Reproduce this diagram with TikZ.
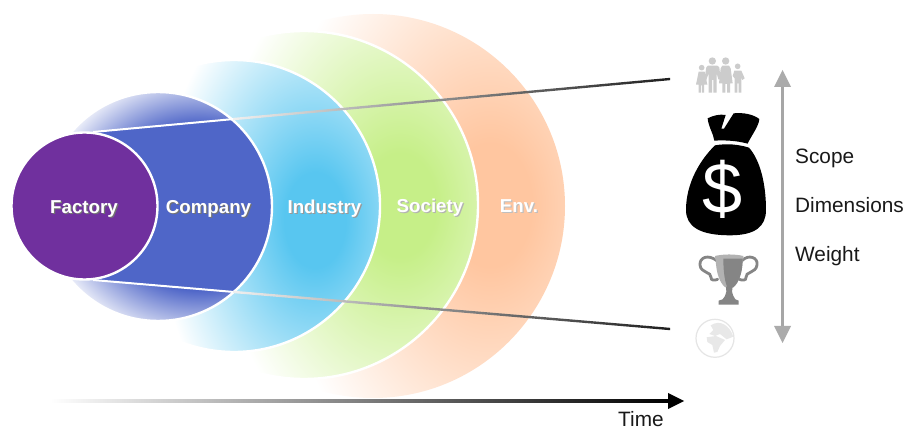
\documentclass[tikz,border=0pt]{standalone}
\usepackage{fontspec}
\setmainfont{Liberation Sans}
\usetikzlibrary{shapes.geometric}
\definecolor{envc}{HTML}{FFC6A0}
\definecolor{socc}{HTML}{C6EF88}
\definecolor{indc}{HTML}{58C6F0}
\definecolor{comc}{HTML}{4F66C8}
\definecolor{facc}{HTML}{70309E}
\pgfdeclareradialshading{envfade}{\pgfpoint{0bp}{0bp}}{color(0bp)=(envc);color(3.5bp)=(envc);color(17.68bp)=(white);color(50bp)=(white)}
\pgfdeclareradialshading{socfade}{\pgfpoint{0bp}{0bp}}{color(0bp)=(socc);color(3.5bp)=(socc);color(17.68bp)=(white);color(50bp)=(white)}
\pgfdeclareradialshading{indfade}{\pgfpoint{0bp}{0bp}}{color(0bp)=(indc);color(3.5bp)=(indc);color(17.68bp)=(white);color(50bp)=(white)}
\pgfdeclareradialshading{comfade}{\pgfpoint{0bp}{0bp}}{color(0bp)=(comc);color(8bp)=(comc);color(13.5bp)=(white);color(50bp)=(white)}
\newcommand{\shtext}[2]{\leavevmode\rlap{\raisebox{-1.2pt}{\kern1.2pt\textcolor{#1}{#2}}}\textcolor{white}{#2}}
\tikzset{
  ringedge/.style={draw=white,line width=2.4pt},
  ringlabel/.style={font=\fontsize{18.7}{20}\selectfont\bfseries,inner sep=0pt},
  sidelabel/.style={font=\fontsize{20.8}{23}\selectfont,inner sep=0pt,anchor=west,text=black!90},
  folk/.style={fill=black!20,draw=none},
  cupmetal/.style={fill=black!48,draw=none},
  cupline/.style={draw=black!48,line width=2.8pt,line cap=round},
  earth/.style={fill=black!9,draw=none}
}
\begin{document}
\begin{tikzpicture}[x=1pt,y=-1pt]
\useasboundingbox (0,0) rectangle (906,430);
\fill[white] (0,0) rectangle (906,430);
% rings, outermost first
\begin{scope}
  \clip (373,206) ellipse [x radius=192,y radius=192];
  \shade[shading=envfade] (190,-235) rectangle (790,645);
\end{scope}
\fill[white] (304,205) ellipse [x radius=174,y radius=174];
\begin{scope}
  \clip (304,205) ellipse [x radius=174,y radius=174];
  \shade[shading=socfade] (140,-165) rectangle (660,575);
\end{scope}
\draw[ringedge] (304,205) ellipse [x radius=174,y radius=174];
\fill[white] (234,206) ellipse [x radius=146,y radius=146];
\begin{scope}
  \clip (234,206) ellipse [x radius=146,y radius=146];
  \shade[shading=indfade] (95,-120) rectangle (535,560);
\end{scope}
\draw[ringedge] (234,206) ellipse [x radius=146,y radius=146];
\fill[white] (158,206.5) ellipse [x radius=114,y radius=114.5];
\coordinate (topa) at (93,132);
\coordinate (topb) at (233,119.1);
\coordinate (topc) at (670,79);
\coordinate (bota) at (93,280);
\coordinate (botb) at (233,291.9);
\coordinate (botc) at (670,329);
\begin{scope}
  \clip (158,206.5) ellipse [x radius=114,y radius=114.5];
  \shade[shading=comfade] (-100,-53) rectangle (500,467);
  \fill[comc] (topa) -- (topb) -- (300,119) -- (300,292) -- (botb) -- (bota) -- cycle;
\end{scope}
\draw[ringedge] (158,206.5) ellipse [x radius=114,y radius=114.5];
% wedge lines
\fill[white] ([yshift=-1pt]topa) -- ([yshift=-1pt]topb) -- ([yshift=1pt]topb) -- ([yshift=1pt]topa) -- cycle;
\fill[white] ([yshift=-1pt]bota) -- ([yshift=-1pt]botb) -- ([yshift=1pt]botb) -- ([yshift=1pt]bota) -- cycle;
\shade[left color=black!6,right color=black!88] ([yshift=-1.2pt]topb) -- ([yshift=-1.2pt]topc) -- ([yshift=1.2pt]topc) -- ([yshift=1.2pt]topb) -- cycle;
\shade[left color=black!6,right color=black!88] ([yshift=-1.2pt]botb) -- ([yshift=-1.2pt]botc) -- ([yshift=1.2pt]botc) -- ([yshift=1.2pt]botb) -- cycle;
% factory
\fill[facc] (84.5,206) ellipse [x radius=73,y radius=73.5];
\draw[ringedge] (84.5,206) ellipse [x radius=73,y radius=73.5];
% labels
\node[ringlabel] (factory) at (84,209.5) {\shtext{black!55}{Factory}};
\node[ringlabel] (company) at (208.5,209.5) {\shtext{black!55}{Company}};
\node[ringlabel] (industry) at (324.5,209.5) {\shtext{black!40}{Industry}};
\node[ringlabel] (society) at (430,208) {\shtext{black!30}{Society}};
\node[ringlabel] (env) at (519,206.5) {\shtext{black!25}{Env.}};
% time arrow
\coordinate (timea) at (50,401);
\coordinate (timeb) at (668,401);
\coordinate (timec) at (684,401);
\shade[left color=white,right color=black] ([yshift=-1.2pt]timea) -- ([yshift=-1.2pt]timeb) -- ([yshift=1.2pt]timeb) -- ([yshift=1.2pt]timea) -- cycle;
\fill[black] (timec) -- ([yshift=-8pt]timeb) -- ([yshift=8pt]timeb) -- cycle;
\node[sidelabel] (time) at (618,419.5) {Time};
% vertical arrow
\coordinate (upt) at (782.5,70);
\coordinate (upb) at (782.5,87);
\coordinate (dnb) at (782.5,326);
\coordinate (dnt) at (782.5,343);
\shade[top color=black!35,middle color=black!80,bottom color=black!35] ([xshift=-1.3pt]upb) rectangle ([xshift=1.3pt]dnb);
\fill[black!33] (upt) -- ([xshift=-8.5pt]upb) -- ([xshift=8.5pt]upb) -- cycle;
\fill[black!33] (dnt) -- ([xshift=-8.5pt]dnb) -- ([xshift=8.5pt]dnb) -- cycle;
\node[sidelabel] (scope) at (795,158) {Scope};
\node[sidelabel] (dims) at (795,205) {Dimensions};
\node[sidelabel] (weight) at (795,256.5) {Weight};
% icons, in thirds of a pixel from (680,50)
\begin{scope}[shift={(680,50)},x=0.3333pt,y=-0.3333pt]
  % family
  \fill[folk] (65,53) circle [radius=8.5];
  \fill[folk] (97,33) circle [radius=11];
  \fill[folk] (137,33) circle [radius=11];
  \fill[folk] (173,49) circle [radius=8.5];
  \fill[folk] (56,65) -- (74,65) -- (82,104) -- (72,104) -- (72,128) -- (66,128) -- (66,106) -- (63,106) -- (63,128) -- (56,128) -- (56,104) -- (48,104) -- cycle;
  \fill[folk] (84,47) -- (112,47) -- (118,52) -- (122,88) -- (115,88) -- (110,70) -- (110,128) -- (100,128) -- (100,90) -- (96,90) -- (96,128) -- (86,128) -- (86,70) -- (78,92) -- (73,90) -- (79,52) -- cycle;
  \fill[folk] (127,47) -- (147,47) -- (152,55) -- (158,100) -- (150,100) -- (150,128) -- (141,128) -- (141,102) -- (136,102) -- (136,128) -- (127,128) -- (127,100) -- (117,100) -- (122,55) -- cycle;
  \fill[folk] (163,62) -- (184,62) -- (194,85) -- (187,90) -- (184,82) -- (184,128) -- (176,128) -- (176,100) -- (172,100) -- (172,128) -- (164,128) -- (164,85) -- (158,78) -- cycle;
  % money bag
  \fill[black] (83,205) .. controls (100,196) and (120,192) .. (137,195) -- (124,236) -- (132,236) -- (161,190) .. controls (190,187) and (220,193) .. (238,207) .. controls (236,230) and (215,255) .. (203,281) .. controls (170,272) and (135,270) .. (103,272) .. controls (100,250) and (85,230) .. (83,205) -- cycle;
  \fill[black] (105,286) .. controls (140,280) and (175,283) .. (207,293) .. controls (240,330) and (258,400) .. (258,480) .. controls (258,530) and (225,556) .. (150,556) .. controls (60,556) and (18,530) .. (18,480) .. controls (18,400) and (60,330) .. (105,286) -- cycle;
  \node[text=white,inner sep=0pt,font=\fontsize{72}{72}\selectfont] (dollar) at (128,419) {\$};
  % trophy
  \draw[cupline] (110,632) .. controls (85,612) and (58,622) .. (60,645) .. controls (62,670) and (95,665) .. (93,682) .. controls (92,692) and (105,692) .. (113,688);
  \draw[cupline] (186,632) .. controls (205,612) and (235,622) .. (231,645) .. controls (228,670) and (195,665) .. (198,682) .. controls (199,692) and (187,692) .. (178,688);
  \fill[black!30] (105,618) .. controls (130,612) and (165,612) .. (190,618) -- (190,628) -- (105,628) -- cycle;
  \fill[black!30] (107,626) .. controls (108,670) and (120,700) .. (136,712) -- (160,712) .. controls (175,700) and (188,670) .. (188,626) -- cycle;
  \fill[cupmetal] (130,626) .. controls (130,670) and (136,700) .. (142,712) -- (160,712) .. controls (175,700) and (188,670) .. (188,626) -- cycle;
  \fill[cupmetal] (138,710) -- (158,710) -- (156,725) -- (160,738) -- (166,748) -- (176,752) -- (176,764) -- (116,764) -- (116,752) -- (128,748) -- (135,738) -- (139,725) -- cycle;
  % globe
  \draw[draw=black!10,fill=white,line width=1.2pt] (105,865) circle [radius=57];
  \fill[earth] (92,826) .. controls (120,808) and (148,825) .. (160,860) -- (140,868) -- (120,852) -- (105,858) -- (88,852) -- (100,840) -- cycle;
  \fill[earth] (80,862) -- (108,858) -- (135,870) -- (120,888) -- (112,906) -- (102,908) -- (97,885) -- (82,876) -- cycle;
\end{scope}
\end{tikzpicture}
\end{document}
